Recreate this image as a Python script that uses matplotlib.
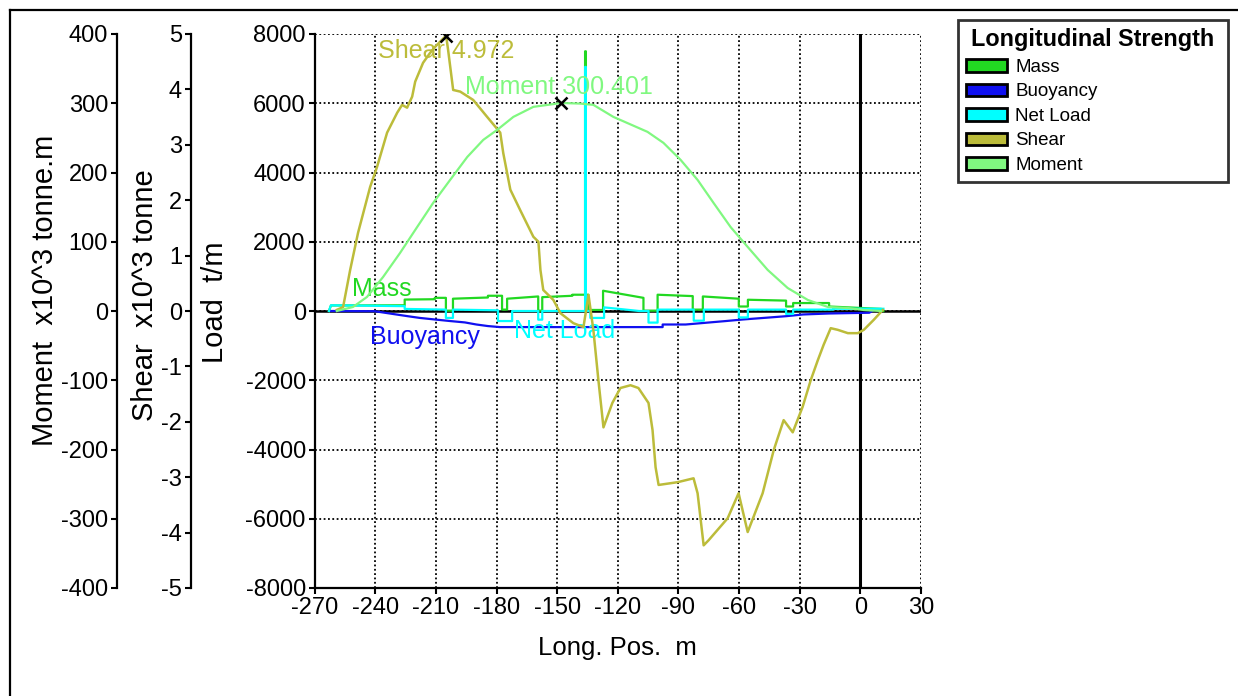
import matplotlib
matplotlib.use("Agg")
import matplotlib.pyplot as plt
from matplotlib.patches import Patch
from matplotlib.lines import Line2D

plt.rcParams['font.family'] = ['Liberation Sans', 'DejaVu Sans']
plt.rcParams['axes.unicode_minus'] = False

# ---------------- data ----------------
x_ticks = [-270, -240, -210, -180, -150, -120, -90, -60, -30, 0, 30]
load_ticks = [-8000, -6000, -4000, -2000, 0, 2000, 4000, 6000, 8000]
shear_ticks = [-5, -4, -3, -2, -1, 0, 1, 2, 3, 4, 5]
moment_ticks = [-400, -300, -200, -100, 0, 100, 200, 300, 400]

mass_x = [-263, -262, -225.5, -225.5, -210.6, -210.6, -205.1, -205.1, -201.6, -201.6,
          -184.3, -184.3, -177.3, -177.3, -174.8, -174.8, -159.4, -159.4, -157.4, -157.4,
          -142.5, -142.5, -136.2, -136.2, -135.8, -135.8, -134.6, -134.6, -127.3, -127.3,
          -107.3, -107.3, -100.3, -100.3, -82.9, -82.9, -77.9, -77.9, -60.1, -60.1,
          -55.6, -55.6, -36.7, -36.7, -33.2, -33.2, -15.4, -15.4, 10.5, 11.5]
mass_v = [0, 160, 165, 330, 340, 380, 380, 10, 10, 355,
          390, 440, 440, 40, 40, 355, 420, 10, 10, 400,
          440, 470, 470, 7500, 7500, 470, 470, 30, 30, 585,
          380, 10, 10, 470, 430, 40, 40, 420, 355, 130,
          130, 325, 300, 130, 130, 230, 230, 130, 60, 0]

buoy_x = [-262, -240.4, -232, -224.0, -218, -210.6, -203, -195.7, -190, -184.3, -178.3,
          -97.8, -97.8, -86.4, -76.5, -66.5, -58.1, -46.7, -36.7, -28.3, -15.4, 4.5, 6]
buoy_v = [0, -6, -80, -150, -200, -245, -290, -330, -390, -435, -465,
          -465, -390, -390, -340, -290, -245, -195, -150, -100, -72, -50, 0]

net_x = [-263, -262, -225.5, -225.5, -205.1, -205.1, -201.6, -201.6, -179.3, -179.3,
         -172.3, -172.3, -159.4, -159.4, -157.4, -157.4, -136.2, -136.2, -135.8, -135.8,
         -133.6, -133.6, -126.8, -126.8, -109.4, -104.8, -104.8, -100.3, -100.3, -82.4,
         -82.4, -77.4, -77.4, -60.1, -60.1, -55.6, -55.6, -36.7, -36.7, -33.2,
         -33.2, -13.4, -13.4, 11.5]
net_v = [0, 165, 140, 60, 40, -200, -200, 40, 20, -290,
         -290, 0, 0, -250, -250, 0, 0, 7050, 7050, 0,
         0, -200, -200, 105, 0, 0, -335, -335, 40, 40,
         -280, -280, 40, 40, -185, -185, 40, 40, -85, -85,
         40, 40, 65, 65]

shear_x = [-259.1, -256.0, -252.5, -248.6, -242.6, -239.2, -234.2, -229.2, -226.8, -224.3,
           -221.8, -220.3, -216.4, -212.9, -210.4, -205.0, -204.0, -201.5, -198.0, -191.6,
           -184.6, -178.2, -176.7, -173.2, -168.3, -161.8, -159.3, -158.3, -156.9, -151.9,
           -148.4, -142.0, -137.0, -134.5, -132.1, -129.6, -127.1, -122.7, -118.7, -113.7,
           -109.8, -104.8, -102.8, -101.3, -99.8, -90.4, -82.5, -80.5, -77.5, -75.1,
           -65.6, -60.2, -55.7, -48.3, -42.8, -37.9, -33.4, -28.5, -24.5, -21.0,
           -18.1, -14.6, -11.1, -6.1, -1.2, 1.8, 6.7, 11.2]
shear_v = [0.02, 0.07, 0.74, 1.41, 2.24, 2.60, 3.22, 3.58, 3.72, 3.67,
           3.87, 4.14, 4.48, 4.66, 4.77, 4.972, 4.71, 3.99, 3.96, 3.81,
           3.50, 3.22, 2.85, 2.19, 1.82, 1.34, 1.25, 0.74, 0.38, 0.20,
           -0.04, -0.22, -0.29, 0.29, -0.34, -1.25, -2.10, -1.66, -1.39, -1.34,
           -1.39, -1.66, -2.15, -2.82, -3.14, -3.09, -3.02, -3.29, -4.23, -4.14,
           -3.74, -3.29, -3.99, -3.29, -2.51, -1.97, -2.19, -1.73, -1.25, -0.89,
           -0.61, -0.31, -0.34, -0.40, -0.40, -0.34, -0.16, 0.02]

moment_x = [-259.1, -251.1, -244.2, -236.2, -227.8, -219.3, -211.4, -203.0, -194.5, -186.6,
            -179.7, -171.7, -161.8, -147.9, -138.5, -132.1, -122.2, -105.3, -97.4, -88.9,
            -80.5, -72.6, -64.2, -55.7, -45.8, -35.9, -25.9, -16.0, -6.1, 1.8, 10.3]
moment_v = [0, 5.8, 20.2, 49.1, 83.8, 121.4, 156.1, 189.3, 222.5, 247.1,
            261.6, 280.3, 294.8, 300.401, 299.5, 297.7, 280.3, 258.7, 242.8, 218.2,
            189.3, 156.1, 121.4, 92.5, 59.3, 33.2, 15.9, 5.8, 4.3, 1.4, 0]

shear_max_x, shear_max = -205.0, 4.972
moment_max_x, moment_max = -147.9, 300.401

series_names = ["Mass", "Buoyancy", "Net Load", "Shear", "Moment"]
colors = {"Mass": "#22d822", "Buoyancy": "#1010f0", "Net Load": "#00ffff",
          "Shear": "#bcbc3a", "Moment": "#80f880"}

# ---------------- figure ----------------
W, H = 1238, 696
fig = plt.figure(figsize=(W / 100, H / 100), dpi=100)
L, R, T, B = 314.8, 920.8, 34, 588
ax = fig.add_axes([L / W, 1 - B / H, (R - L) / W, (B - T) / H])

TICK_FS = 17
XLABEL_FS = 18.5
YLABEL_FS = 21
grid_style = dict(color="black", linestyle=(0, (1, 1.4)), linewidth=1.3)

ax.set_xlim(-270, 30)
ax.set_ylim(-8000, 8000)
ax.set_xticks(x_ticks)
ax.set_yticks(load_ticks)
ax.grid(True, **grid_style)
for s in ["top", "right"]:
    ax.spines[s].set_visible(False)
for s in ["left", "bottom"]:
    ax.spines[s].set_linewidth(1.6)
ax.tick_params(axis="both", direction="out", length=4.5, width=1.5, labelsize=TICK_FS, pad=2)
ax.axhline(0, color="black", linewidth=1.8, zorder=1.5)
ax.axvline(0, color="black", linewidth=2.2, zorder=1.5)

ax.plot(mass_x, mass_v, color=colors["Mass"], linewidth=1.6, zorder=3)
ax.plot(buoy_x, buoy_v, color=colors["Buoyancy"], linewidth=1.6, zorder=3)
ax.plot(net_x, net_v, color=colors["Net Load"], linewidth=1.6, zorder=3)

ax.set_xlabel("Long. Pos.  m", fontsize=XLABEL_FS)
ax.xaxis.set_label_coords(0.5, -(636 - B) / (B - T))
ax.set_ylabel("Load  t/m", fontsize=YLABEL_FS)
ax.yaxis.set_label_coords(-(L - 229) / (R - L), (B - 302) / (B - T))

# shear axis
ax_s = ax.twinx()
ax_s.set_ylim(-5, 5)
ax_s.set_yticks(shear_ticks)
ax_s.spines["left"].set_position(("axes", -(L - 191) / (R - L)))
ax_s.spines["left"].set_visible(True)
ax_s.spines["left"].set_linewidth(1.6)
for s in ["top", "right", "bottom"]:
    ax_s.spines[s].set_visible(False)
ax_s.yaxis.set_ticks_position("left")
ax_s.yaxis.set_label_position("left")
ax_s.tick_params(axis="y", direction="out", length=4.5, width=1.5, labelsize=TICK_FS, pad=2)
ax_s.set_ylabel("Shear  x10^3 tonne", fontsize=YLABEL_FS)
ax_s.yaxis.set_label_coords(-(L - 159) / (R - L), (B - 295) / (B - T))
ax_s.plot(shear_x, shear_v, color=colors["Shear"], linewidth=1.8, zorder=3)
ax_s.plot([shear_max_x], [shear_max], marker="x", color="black", markersize=9, mew=1.8, zorder=5)

# moment axis
ax_m = ax.twinx()
ax_m.set_ylim(-400, 400)
ax_m.set_yticks(moment_ticks)
ax_m.spines["left"].set_position(("axes", -(L - 117) / (R - L)))
ax_m.spines["left"].set_visible(True)
ax_m.spines["left"].set_linewidth(1.6)
for s in ["top", "right", "bottom"]:
    ax_m.spines[s].set_visible(False)
ax_m.yaxis.set_ticks_position("left")
ax_m.yaxis.set_label_position("left")
ax_m.tick_params(axis="y", direction="out", length=4.5, width=1.5, labelsize=TICK_FS, pad=2)
ax_m.set_ylabel("Moment  x10^3 tonne.m", fontsize=YLABEL_FS)
ax_m.yaxis.set_label_coords(-(L - 59) / (R - L), (B - 290) / (B - T))
ax_m.plot(moment_x, moment_v, color=colors["Moment"], linewidth=1.6, zorder=3)
ax_m.plot([moment_max_x], [moment_max], marker="x", color="black", markersize=9, mew=1.8, zorder=5)

# in-plot labels
TXT_FS = 18
ax.text(-238.7, 7514, "Shear %.3f" % shear_max, color=colors["Shear"], fontsize=TXT_FS,
        ha="left", va="center", zorder=6)
ax.text(-195.5, 6474, "Moment %.3f" % moment_max, color=colors["Moment"], fontsize=TXT_FS,
        ha="left", va="center", zorder=6)
ax.text(-251.5, 640, "Mass", color=colors["Mass"], fontsize=TXT_FS, ha="left", va="center", zorder=6)
ax.text(-242.6, -750, "Buoyancy", color=colors["Buoyancy"], fontsize=TXT_FS, ha="left", va="center", zorder=6)
ax.text(-171.2, -580, "Net Load", color=colors["Net Load"], fontsize=TXT_FS, ha="left", va="center", zorder=6)

# legend
handles = [Patch(facecolor=colors[n], edgecolor="black", linewidth=2) for n in series_names]
leg = fig.legend(handles, series_names, loc="upper left",
                 bbox_to_anchor=(958 / W, 1 - 20 / H, 270 / W, 0), mode="expand",
                 fontsize=13.5, title="Longitudinal Strength",
                 title_fontproperties={"weight": "bold", "size": 16.8},
                 frameon=True, fancybox=False, borderpad=0.45, borderaxespad=0,
                 handlelength=2.15, handleheight=0.65, handletextpad=0.45, labelspacing=0.4)
leg.get_frame().set_edgecolor("black")
leg.get_frame().set_linewidth(2)

# window frame (left and top edges)
fig.add_artist(Line2D([10 / W, 10 / W], [0, 1 - 10 / H], transform=fig.transFigure, color="black", linewidth=1.6))
fig.add_artist(Line2D([10 / W, 1], [1 - 10 / H, 1 - 10 / H], transform=fig.transFigure, color="black", linewidth=1.6))

fig.savefig("out.png", dpi=100, facecolor="white")
